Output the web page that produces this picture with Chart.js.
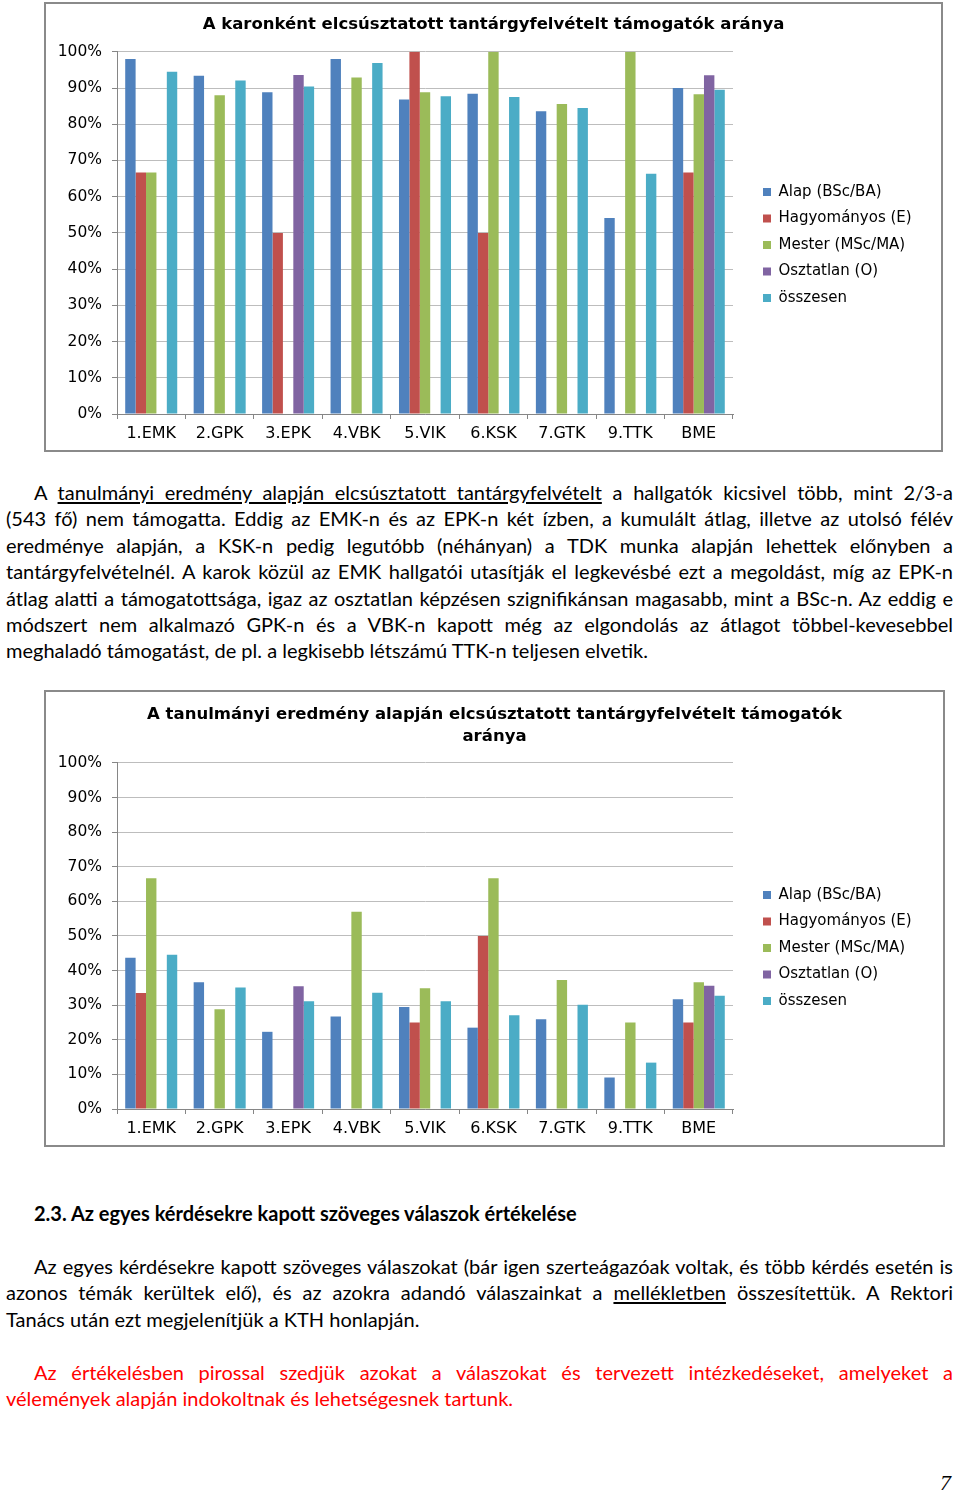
<!DOCTYPE html>
<html>
<head>
<meta charset="utf-8">
<script src="https://cdn.jsdelivr.net/npm/chart.js@4"></script>
<style>
  body { margin: 0; width: 960px; height: 1495px; position: relative; background: #fff; font-family: Lato, "Open Sans", sans-serif; color: #000; }
  .box { position: absolute; border: 2px solid #8a8a8a; background: #fff; }
  .box canvas { display: block; }
  .txt { position: absolute; left: 6px; width: 947px; font-size: 20px; line-height: 26.4px; }
  .ln { white-space: nowrap; text-align: justify; text-align-last: justify; }
  .ln.last { text-align-last: left; }
  .ind { padding-left: 28px; }
  u { text-decoration: underline; text-underline-offset: 2px; }
  .red { color: #f00; }
  h3 { position: absolute; left: 34px; top: 1200px; margin: 0; font-size: 20px; line-height: 26px; font-weight: bold; }
  .pg { position: absolute; left: 940px; top: 1470px; font-family: "Liberation Serif", serif; font-size: 22px; font-style: italic; }
</style>
</head>
<body>
<div class="box" style="left:44px;top:2px;width:895px;height:446px"><canvas id="c1" width="895" height="446"></canvas></div>

<div class="txt" style="top:479px">
  <div class="ln ind">A <u>tanulmányi eredmény alapján elcsúsztatott tantárgyfelvételt</u> a hallgatók kicsivel több, mint 2/3-a</div>
  <div class="ln">(543 fő) nem támogatta. Eddig az EMK-n és az EPK-n két ízben, a kumulált átlag, illetve az utolsó félév</div>
  <div class="ln">eredménye alapján, a KSK-n pedig legutóbb (néhányan) a TDK munka alapján lehettek előnyben a</div>
  <div class="ln">tantárgyfelvételnél. A karok közül az EMK hallgatói utasítják el legkevésbé ezt a megoldást, míg az EPK-n</div>
  <div class="ln">átlag alatti a támogatottsága, igaz az osztatlan képzésen szignifikánsan magasabb, mint a BSc-n. Az eddig e</div>
  <div class="ln">módszert nem alkalmazó GPK-n és a VBK-n kapott még az elgondolás az átlagot többel-kevesebbel</div>
  <div class="ln last">meghaladó támogatást, de pl. a legkisebb létszámú TTK-n teljesen elvetik.</div>
</div>

<div class="box" style="left:44px;top:690px;width:897px;height:453px"><canvas id="c2" width="897" height="453"></canvas></div>

<h3>2.3. Az egyes kérdésekre kapott szöveges válaszok értékelése</h3>

<div class="txt" style="top:1253px">
  <div class="ln ind">Az egyes kérdésekre kapott szöveges válaszokat (bár igen szerteágazóak voltak, és több kérdés esetén is</div>
  <div class="ln">azonos témák kerültek elő), és az azokra adandó válaszainkat a <u>mellékletben</u> összesítettük. A Rektori</div>
  <div class="ln last">Tanács után ezt megjelenítjük a KTH honlapján.</div>
</div>

<div class="txt red" style="top:1359px">
  <div class="ln ind">Az értékelésben pirossal szedjük azokat a válaszokat és tervezett intézkedéseket, amelyeket a</div>
  <div class="ln last">vélemények alapján indokoltnak és lehetségesnek tartunk.</div>
</div>

<div class="pg">7</div>

<script>
const faculties = ['1.EMK', '2.GPK', '3.EPK', '4.VBK', '5.VIK', '6.KSK', '7.GTK', '9.TTK', 'BME'];
const seriesNames = ['Alap (BSc/BA)', 'Hagyományos (E)', 'Mester (MSc/MA)', 'Osztatlan (O)', 'összesen'];
const seriesColors = ['#4F81BD', '#C0504D', '#9BBB59', '#8064A2', '#4BACC6'];
const yTicks = [0, 10, 20, 30, 40, 50, 60, 70, 80, 90, 100];

// chart 1: share per faculty (%)
const alap1   = [98, 93.4, 88.8, 98, 86.8, 88.4, 83.6, 54.1, 90];
const hagy1   = [66.7, null, 50, null, 100, 50, null, null, 66.7];
const mester1 = [66.7, 88, null, 92.9, 88.8, 100, 85.6, 100, 88.3];
const oszt1   = [null, null, 93.6, null, null, null, null, null, 93.5];
const ossz1   = [94.5, 92.1, 90.4, 96.9, 87.7, 87.5, 84.5, 66.3, 89.5];

// chart 2: share based on academic results (%)
const alap2   = [43.7, 36.6, 22.3, 26.7, 29.5, 23.5, 25.9, 9.1, 31.7];
const hagy2   = [33.5, null, null, null, 25, 50, null, null, 25];
const mester2 = [66.7, 28.8, null, 57, 34.9, 66.7, 37.3, 25, 36.6];
const oszt2   = [null, null, 35.5, null, null, null, null, null, 35.6];
const ossz2   = [44.6, 35.1, 31.1, 33.6, 31.1, 27.1, 30.1, 13.4, 32.7];

const title1 = 'A karonként elcsúsztatott tantárgyfelvételt támogatók aránya';
const title2 = ['A tanulmányi eredmény alapján elcsúsztatott tantárgyfelvételt támogatók', 'aránya'];

const chartFont = '"DejaVu Sans", sans-serif';
const axisColor = '#868686';
const gridColor = '#bdbdbd';

function makeChart(id, title, series, titlePad, titleLineHeight, legendY) {
  const canvas = document.getElementById(id);
  const area = { left: 71, right: 687 };
  const legendPad = 11.5;
  // put legend and title where the original has them
  const placeBoxes = {
    id: 'placeBoxes',
    afterLayout(chart) {
      const lg = chart.legend;
      const w = lg.right - lg.left;
      const h = lg.bottom - lg.top;
      lg.left = 717 - legendPad;
      lg.right = lg.left + w;
      lg.top = legendY - legendPad;
      lg.bottom = lg.top + h;
      chart.titleBlock.left = 0;
      chart.titleBlock.right = chart.width;
    }
  };
  const chart = new Chart(canvas, {
    type: 'bar',
    data: {
      labels: faculties,
      datasets: series.map((d, i) => ({
        label: seriesNames[i],
        data: d,
        backgroundColor: seriesColors[i],
        borderWidth: 0,
        categoryPercentage: 0.76,
        barPercentage: 1
      }))
    },
    options: {
      responsive: false,
      animation: false,
      layout: { padding: { left: 0, right: 0, top: 0, bottom: 6 } },
      plugins: {
        title: {
          display: true,
          text: title,
          color: '#000',
          font: { family: chartFont, size: 16.5, weight: 'bold', lineHeight: titleLineHeight },
          padding: titlePad
        },
        legend: {
          position: 'right',
          align: 'start',
          labels: {
            boxWidth: 8, boxHeight: 8, padding: legendPad,
            color: '#000',
            font: { family: chartFont, size: 15 }
          }
        },
        tooltip: { enabled: false }
      },
      scales: {
        x: {
          afterFit: s => { s.height = 30; },
          grid: { drawOnChartArea: false, tickLength: 5, color: axisColor, offset: true },
          border: { color: axisColor },
          ticks: { color: '#000', padding: 5, font: { family: chartFont, size: 16 } }
        },
        y: {
          min: 0, max: 100,
          afterFit: s => { s.width = area.left; },
          afterBuildTicks: s => { s.ticks = yTicks.map(v => ({ value: v })); },
          grid: { color: gridColor, tickLength: 5, tickColor: axisColor },
          border: { color: axisColor },
          ticks: { color: '#000', padding: 10, font: { family: chartFont, size: 15.5 }, callback: v => v + '%' }
        }
      }
    },
    plugins: [placeBoxes]
  });
  const diff = chart.chartArea.right - area.right;
  chart.options.layout.padding.right += diff;
  chart.update();
  return chart;
}

makeChart('c1', title1, [alap1, hagy1, mester1, oszt1, ossz1], { top: 11, bottom: 17 }, 1.2, 180.5);
makeChart('c2', title2, [alap2, hagy2, mester2, oszt2, ossz2], { top: 11, bottom: 15 }, 1.36, 195.5);
</script>
</body>
</html>
